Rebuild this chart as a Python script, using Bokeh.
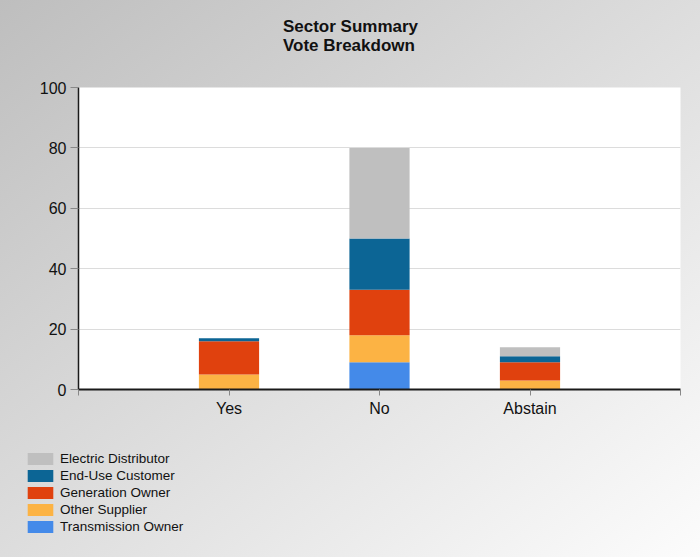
from bokeh.plotting import figure
from bokeh.layouts import column
from bokeh.models import Range1d, FixedTicker, Legend, LegendItem, ColumnDataSource
from bokeh.embed import file_html
from bokeh.resources import INLINE

title_text = "Sector Summary\nVote Breakdown"
categories = ["Yes", "No", "Abstain"]
cat_pos = [1, 2, 3]
sectors = ["Transmission Owner", "Other Supplier", "Generation Owner", "End-Use Customer", "Electric Distributor"]
transmission_owner = [0, 9, 0]
other_supplier = [5, 9, 3]
generation_owner = [11, 15, 6]
end_use_customer = [1, 17, 2]
electric_distributor = [0, 30, 3]
colors = ["#448ae9", "#fcb344", "#e0410e", "#0c6595", "#bfbfbf"]
y_ticks = [0, 20, 40, 60, 80, 100]

source = ColumnDataSource(dict(
    x=cat_pos,
    **{"Transmission Owner": transmission_owner,
       "Other Supplier": other_supplier,
       "Generation Owner": generation_owner,
       "End-Use Customer": end_use_customer,
       "Electric Distributor": electric_distributor}))


def bare(fig):
    fig.frame_align = False
    fig.axis.visible = False
    fig.grid.visible = False
    fig.outline_line_color = None
    fig.border_fill_alpha = 0
    fig.background_fill_alpha = 0


# title strip
tp = figure(width=700, height=71, output_backend="svg", toolbar_location=None,
            x_range=Range1d(0, 1), y_range=Range1d(0, 1), title=title_text,
            min_border_left=0, min_border_right=0, min_border_top=0, min_border_bottom=0)
bare(tp)
tp.title.align = "center"
tp.title.standoff = 33
tp.title.text_font = "Liberation Sans"
tp.title.text_font_size = "17px"
tp.title.text_font_style = "bold"
tp.title.text_color = "#111111"

# main chart
p = figure(width=700, height=359, output_backend="svg", toolbar_location=None,
           x_range=Range1d(0, 4), y_range=Range1d(0, 100),
           min_border_left=78, min_border_right=20, min_border_top=16, min_border_bottom=41)
p.border_fill_alpha = 0
p.background_fill_color = "white"
p.outline_line_color = None
p.frame_align = False

renderers = p.vbar_stack(sectors, x="x", width=0.4, color=colors, source=source, line_width=0)

p.xgrid.visible = False
p.ygrid.ticker = FixedTicker(ticks=[20, 40, 60, 80])
p.ygrid.grid_line_color = "#dcdcdc"

p.yaxis.ticker = FixedTicker(ticks=y_ticks)
p.xaxis.ticker = FixedTicker(ticks=[0, 1, 2, 3, 4])
p.xaxis.major_label_overrides = {0: "", 1: categories[0], 2: categories[1], 3: categories[2], 4: ""}
for ax in (p.xaxis[0], p.yaxis[0]):
    ax.major_label_text_font = "Liberation Sans"
    ax.major_label_text_font_size = "16px"
    ax.major_label_text_color = "#111111"
    ax.axis_line_color = "#1a1a1a"
    ax.major_tick_line_color = "#888888"
    ax.minor_tick_line_color = None
    ax.major_tick_in = 0
p.yaxis.major_tick_out = 8
p.yaxis.major_label_standoff = 4
p.yaxis.axis_line_width = 1.5
p.xaxis.major_tick_out = 6
p.xaxis.major_label_standoff = 4
p.xaxis.axis_line_width = 2

# legend strip (separate figure so the legend can sit left of the plot frame)
lp = figure(width=700, height=127, output_backend="svg", toolbar_location=None,
            x_range=Range1d(0, 1), y_range=Range1d(0, 1),
            min_border_left=0, min_border_right=0, min_border_top=0, min_border_bottom=0)
bare(lp)
swatches = lp.vbar_stack(sectors, x="x", width=0.4, color=colors, source=source, line_width=0)
for r in swatches:
    r.visible = False

items = [LegendItem(label=s, renderers=[r]) for s, r in zip(sectors, swatches)][::-1]
legend = Legend(items=items, location=(24, 22), orientation="vertical",
                glyph_width=32, glyph_height=15, label_standoff=4, spacing=0,
                label_height=17, padding=0, margin=0,
                label_text_font="Liberation Sans", label_text_font_size="13.5px",
                label_text_color="#111111", inactive_fill_alpha=0,
                background_fill_alpha=0, border_line_color=None)
lp.add_layout(legend, "center")

layout = column(tp, p, lp, spacing=0,
                styles={"background": "linear-gradient(to bottom right, #bebebe, #fcfcfc)"})

open("out.html", "w").write(file_html(layout, INLINE))
